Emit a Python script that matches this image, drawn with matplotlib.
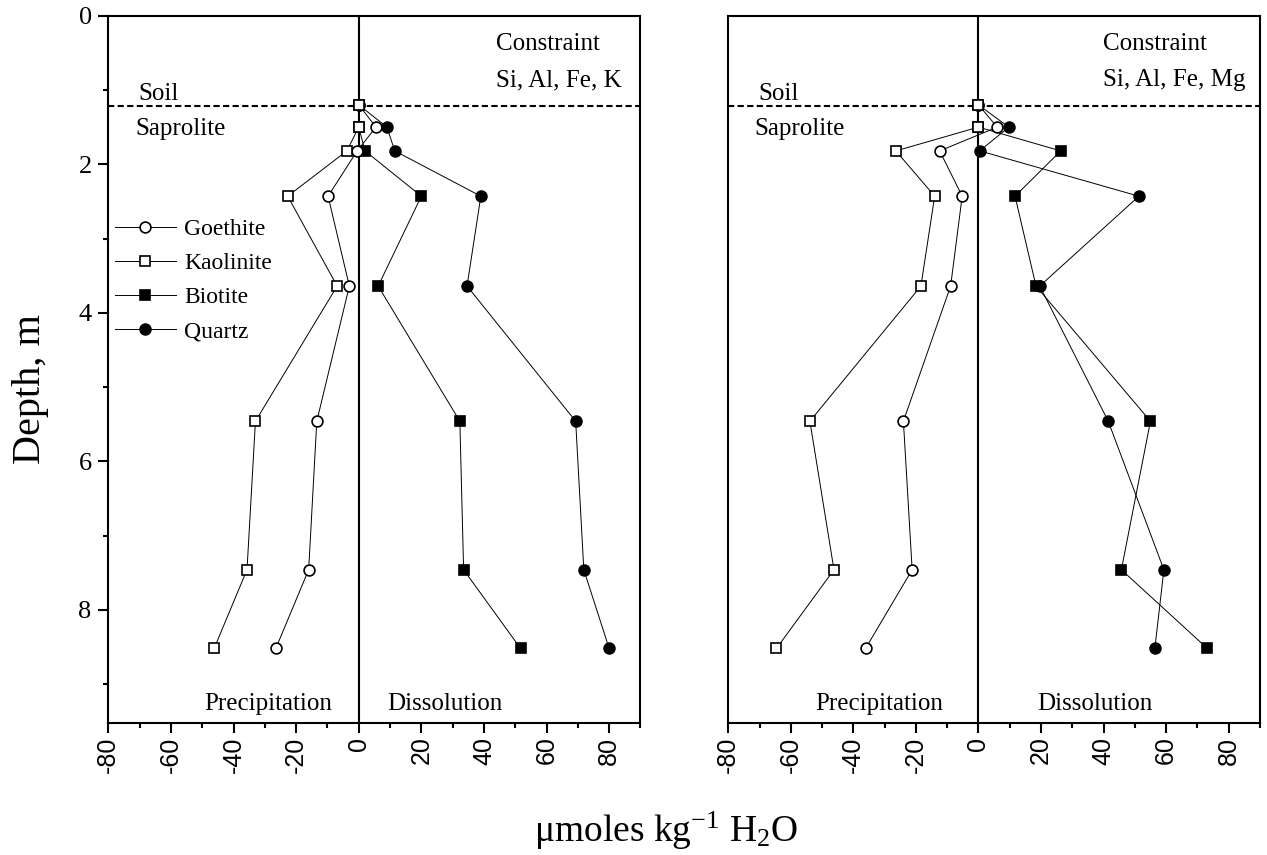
import numpy as np
import matplotlib
matplotlib.use('Agg')
import matplotlib.pyplot as plt
from matplotlib.ticker import MultipleLocator

plt.rcParams['font.family'] = ['Liberation Serif', 'DejaVu Serif']
plt.rcParams['mathtext.fontset'] = 'custom'
plt.rcParams['mathtext.rm'] = 'Liberation Serif'
plt.rcParams['mathtext.default'] = 'rm'

# depths of the sampled horizons (m)
depth = [1.2, 1.5, 1.82, 2.43, 3.64, 5.46, 7.46, 8.52]

# left panel: constraint Si, Al, Fe, K
goethite_k = [0, 5.5, -0.5, -9.8, -3, -13.4, -16, -26.5]
kaolinite_k = [0, 0, -3.8, -22.7, -6.9, -33, -35.7, -46.2]
biotite_k = [0, 0, 2, 20, 6.2, 32.3, 33.5, 51.7]
quartz_k = [0, 9, 11.5, 39, 34.6, 69.3, 71.9, 80]

# right panel: constraint Si, Al, Fe, Mg
goethite_mg = [0, 6, -12.4, -5.2, -8.9, -24, -21.2, -36.1]
kaolinite_mg = [0, 0, -26.4, -14, -18.4, -53.9, -46.2, -64.6]
biotite_mg = [0, 0, 26.3, 11.7, 18.4, 55, 45.7, 73.2]
quartz_mg = [0, 9.7, 0.4, 51.3, 19.6, 41.5, 59.3, 56.4]

soil_depth = 1.22
xticks = [-80, -60, -40, -20, 0, 20, 40, 60, 80]
yticks = [0, 2, 4, 6, 8]

fig = plt.figure(figsize=(12.67, 8.55), dpi=100)
ax1 = fig.add_axes([0.0855, 0.1547, 0.4200, 0.8269])
ax2 = fig.add_axes([0.5748, 0.1547, 0.4196, 0.8269])

styles = [('Goethite', 'o', 'white'), ('Kaolinite', 's', 'white'),
          ('Biotite', 's', 'black'), ('Quartz', 'o', 'black')]


def draw_panel(ax, series, constraint, prec_x, diss_x):
    handles = []
    for (name, mk, fc), vals in zip(styles, series):
        z = 3 if fc == 'black' else 4
        h, = ax.plot(vals, depth, color='black', lw=0.7, marker=mk, ms=7.8,
                     mfc=fc, mec='black', mew=1.2, label=name, zorder=z)
        handles.append(h)
    ax.axvline(0, color='black', lw=1.5, zorder=2)
    ax.axhline(soil_depth, color='black', lw=1.5, ls=(0, (3, 1.6)), zorder=2)
    ax.set_xlim(-80, 90)
    ax.set_ylim(9.52, 0)
    ax.set_xticks(xticks)
    ax.xaxis.set_minor_locator(MultipleLocator(10))
    ax.set_xticklabels([str(t) for t in xticks], rotation=90,
                       family='Liberation Sans', fontsize=18)
    ax.tick_params(axis='x', which='major', direction='out', length=7, width=1.5, pad=3)
    ax.tick_params(axis='x', which='minor', direction='out', length=3.6, width=1.5)
    for s in ax.spines.values():
        s.set_linewidth(1.5)
    ax.text(-70.5, 1.14, 'Soil', fontsize=18, va='baseline')
    ax.text(-71.5, 1.61, 'Saprolite', fontsize=18, va='baseline')
    ax.text(constraint[0], 0.46, 'Constraint', fontsize=18, va='baseline')
    ax.text(constraint[0], 0.95, constraint[1], fontsize=18, va='baseline')
    ax.text(prec_x, 9.35, 'Precipitation', fontsize=18, va='baseline', ha='right')
    ax.text(diss_x, 9.35, 'Dissolution', fontsize=18, va='baseline')
    return handles


handles = draw_panel(ax1, [goethite_k, kaolinite_k, biotite_k, quartz_k],
                     (43.8, 'Si, Al, Fe, K'), -8.6, 9.2)
draw_panel(ax2, [goethite_mg, kaolinite_mg, biotite_mg, quartz_mg],
           (39.9, 'Si, Al, Fe, Mg'), -11.3, 18.8)

ax1.set_yticks(yticks)
ax1.yaxis.set_minor_locator(MultipleLocator(1))
ax1.set_yticklabels([str(t) for t in yticks], fontsize=19)
ax1.tick_params(axis='y', which='major', direction='out', length=7, width=1.5, pad=5)
ax1.tick_params(axis='y', which='minor', direction='out', length=3.6, width=1.5)
ax2.tick_params(axis='y', which='both', left=False, labelleft=False)

ax1.legend(handles=handles, loc='upper left', bbox_to_anchor=(0.012, 0.713),
           frameon=False, fontsize=17, handlelength=2.6, handletextpad=0.35,
           labelspacing=0.53, borderpad=0, borderaxespad=0)

fig.text(0.024, 0.545, 'Depth, m', rotation=90, fontsize=29, ha='center', va='center')
fig.text(0.526, 0.015, 'μmoles kg$^{\\mathrm{-1}}$ H$_2$O', fontsize=27, ha='center', va='baseline')

fig.savefig('out.png', dpi=100)
